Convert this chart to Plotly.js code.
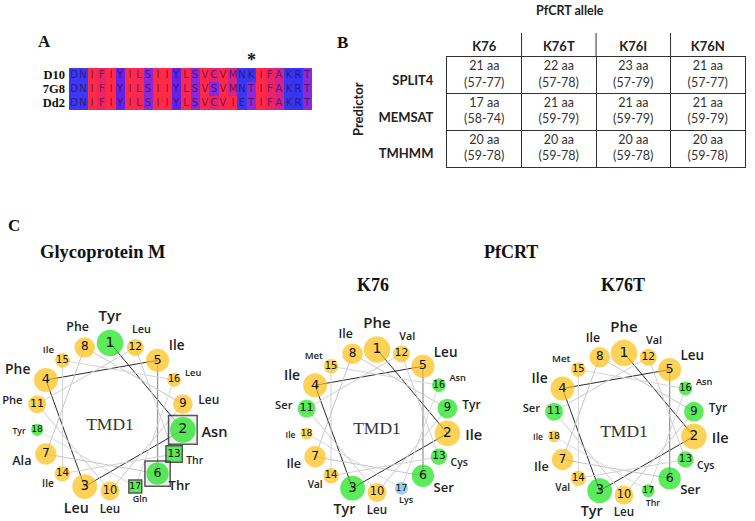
<!DOCTYPE html>
<html><head><meta charset="utf-8">
<script src="https://cdn.plot.ly/plotly-3.0.1.min.js"></script>
<style>html,body{margin:0;padding:0;background:#fff}#chart{width:755px;height:521px}</style>
</head><body><div id="chart"></div>
<script>
// ---------- Panel A : alignment ----------
const strains = ['D10', '7G8', 'Dd2'];
const seqD10 = 'DNIFIYILSIIYLSVCVMNKIFAKRT'.split('');
const seq7G8 = 'DNIFIYILSIIYLSVSVMNTIFAKRT'.split('');
const seqDd2 = 'DNIFIYILSIIYLSVCVIETIFAKRT'.split('');
const starIndex = 19; // K76 position in the alignment
const hydrophobicity = {I:4.5, V:4.2, L:3.8, F:2.8, C:2.5, M:1.9, A:1.8, G:-0.4, T:-0.7, S:-0.8,
  W:-0.9, Y:-1.3, P:-1.6, H:-3.2, E:-3.5, Q:-3.5, D:-3.5, N:-3.5, K:-3.9, R:-4.5};

// ---------- Panel B : table ----------
const alleles = ['K76', 'K76T', 'K76I', 'K76N'];
const predictors = ['SPLIT4', 'MEMSAT', 'TMHMM'];
const split4Length = [21, 22, 23, 21];
const split4Start  = [57, 57, 57, 57];
const split4End    = [77, 78, 79, 77];
const memsatLength = [17, 21, 21, 21];
const memsatStart  = [58, 59, 59, 59];
const memsatEnd    = [74, 79, 79, 79];
const tmhmmLength  = [20, 20, 20, 20];
const tmhmmStart   = [59, 59, 59, 59];
const tmhmmEnd     = [78, 78, 78, 78];

// ---------- Panel C : helical wheels ----------
const residueNumbers = [1, 2, 3, 4, 5, 6, 7, 8, 9, 10, 11, 12, 13, 14, 15, 16, 17, 18];
const gpmResidues  = ['Tyr','Asn','Leu','Phe','Ile','Thr','Ala','Phe','Leu','Leu','Phe','Leu','Thr','Ile','Ile','Leu','Gln','Tyr'];
const k76Residues  = ['Phe','Ile','Tyr','Ile','Leu','Ser','Ile','Ile','Tyr','Leu','Ser','Val','Cys','Val','Met','Asn','Lys','Ile'];
const k76tResidues = ['Phe','Ile','Tyr','Ile','Leu','Ser','Ile','Ile','Tyr','Leu','Ser','Val','Cys','Val','Met','Asn','Thr','Ile'];
const gpmFramed  = [2, 6];
const gpmSquares = [13, 17];

const residueClass = {Phe:'apolar', Ile:'apolar', Leu:'apolar', Val:'apolar', Met:'apolar', Ala:'apolar',
  Tyr:'polar', Asn:'polar', Thr:'polar', Ser:'polar', Cys:'polar', Gln:'polar', Lys:'basic'};
const classColor = {apolar:'#FDBF12', polar:'#17E317', basic:'#74B6E6'};

const traces = [];

// Panel A heatmap
const seqs = [seqD10, seq7G8, seqDd2];
traces.push({
  type:'heatmap', xaxis:'x', yaxis:'y',
  x: seqD10.map((_, i) => i), y: strains,
  z: seqs.map(s => s.map(a => hydrophobicity[a])),
  text: seqs, texttemplate:'%{text}',
  textfont:{family:'DejaVu Sans', size:10, color:'rgba(40,0,50,0.6)'},
  zmin:-4.5, zmax:4.5, showscale:false, hoverinfo:'skip',
  colorscale:[[0,'#3434F2'],[0.111,'#3A38F2'],[0.356,'#6622E4'],[0.417,'#8E28D6'],
              [0.706,'#D0248E'],[0.794,'#EA2468'],[1,'#FF2A48']]
});

// Panel B table text
const tableData = [[split4Length, split4Start, split4End],[memsatLength, memsatStart, memsatEnd],[tmhmmLength, tmhmmStart, tmhmmEnd]];
const tx = [], ty = [], tt = [];
predictors.forEach((p, r) => alleles.forEach((a, c) => {
  tx.push(a); ty.push(p);
  tt.push(tableData[r][0][c] + ' aa<br>(' + tableData[r][1][c] + '-' + tableData[r][2][c] + ')');
}));
traces.push({type:'scatter', xaxis:'x2', yaxis:'y2', x:tx, y:ty, text:tt, mode:'text',
  textfont:{family:'Lato', size:12.5, color:'#333'}, hoverinfo:'skip', cliponaxis:false});

// Wheels
function wheel(subplot, residues, framed, squares) {
  const n = residues.length;
  const theta = residueNumbers.map(k => (k - 1) * 100);
  const sinT = theta.map(t => Math.sin(t * Math.PI / 180));
  const sizes = residueNumbers.map(k => 26.5 - 0.85 * (k - 1));
  // connecting lines
  for (let k = 0; k < n - 1; k++) {
    let col;
    if (k < 4) col = '#2a2a2a';
    else if (k === 4) col = '#9a9a9a';
    else col = 'rgb(' + (185 + k * 2) + ',' + (185 + k * 2) + ',' + (185 + k * 2) + ')';
    traces.push({type:'scatterpolar', subplot, r:[1, 1], theta:[theta[k], theta[k + 1]], mode:'lines',
      line:{color:col, width:k === 4 ? 1.3 : 1}, hoverinfo:'skip', cliponaxis:false});
  }
  // frames
  if (framed.length) {
    traces.push({type:'scatterpolar', subplot, mode:'markers', cliponaxis:false, hoverinfo:'skip',
      r: framed.map(() => 1), theta: framed.map(k => theta[k - 1]),
      marker:{symbol:'square', size: framed.map(k => sizes[k - 1] + 3), color:'#e6e6e6', line:{color:'#111', width:1.5}}});
  }
  // residues
  traces.push({type:'scatterpolar', subplot, mode:'markers+text', cliponaxis:false, hoverinfo:'skip',
    r: residueNumbers.map(() => 1), theta, text: residueNumbers.map(String), textposition:'middle center',
    textfont:{family:'DejaVu Sans', size: residueNumbers.map(k => 14 - 0.29 * (k - 1)), color:'#111'},
    marker:{size: sizes,
      symbol: residueNumbers.map(k => squares.includes(k) ? 'square' : 'circle'),
      color: residues.map(a => classColor[residueClass[a]]),
      line:{color:'#111', width: residueNumbers.map(k => squares.includes(k) ? 1.5 : 0)}}});
  // names: side labels anchored at their inner edge, top/bottom labels centred
  const side = sinT.map(s => s > 0.5 ? 'middle right' : (s < -0.5 ? 'middle left' : 'middle center'));
  traces.push({type:'scatterpolar', subplot, mode:'text', cliponaxis:false, hoverinfo:'skip',
    r: residueNumbers.map((k, i) => side[i] === 'middle center' ? 1.35 - 0.01 * (k - 1) : 1.26 - 0.006 * (k - 1)),
    theta, text: residues, textposition: side,
    textfont:{family:'Open Sans', weight:600, size: residueNumbers.map(k => 15 - 0.38 * (k - 1)), color:'#222'}});
  // centre label
  traces.push({type:'scatterpolar', subplot, mode:'text', cliponaxis:false, hoverinfo:'skip',
    r:[0], theta:[0], text:['TMD1'], textposition:'bottom center',
    textfont:{family:'Liberation Serif', size:17.5, color:'#333'}});
}
wheel('polar', gpmResidues, gpmFramed, gpmSquares);
wheel('polar2', k76Residues, [], []);
wheel('polar3', k76tResidues, [], []);

function polarLayout(dx, dy, rmax) {
  return {domain:{x:dx, y:dy}, bgcolor:'rgba(0,0,0,0)',
    radialaxis:{visible:false, range:[0, rmax]},
    angularaxis:{visible:false, rotation:90, direction:'clockwise'}};
}

const serifBold = {family:'Liberation Serif', weight:'bold', color:'#111'};
const layout = {
  width:755, height:521, margin:{l:0, r:0, t:0, b:0},
  paper_bgcolor:'#fff', plot_bgcolor:'#fff', showlegend:false,
  xaxis:{domain:[0.0914, 0.4132], anchor:'y', range:[-0.5, 25.5], visible:false, fixedrange:true},
  yaxis:{domain:[0.7889, 0.8695], anchor:'x', type:'category', autorange:'reversed',
    tickmode:'array', tickvals:strains, ticktext:strains,
    showgrid:false, zeroline:false, showline:false, ticks:'', ticklabelstandoff:3,
    tickfont:Object.assign({size:12.5}, serifBold), fixedrange:true},
  xaxis2:{domain:[0.5921, 0.9868], anchor:'y2', type:'category', categoryarray:alleles, categoryorder:'array',
    side:'top', tickson:'boundaries', showgrid:true, gridcolor:'#333', gridwidth:1,
    showline:true, mirror:true, linecolor:'#333', linewidth:1, ticks:'', range:[-0.5, 3.5],
    tickfont:{family:'Lato', size:13, weight:'bold', color:'#222'}, fixedrange:true},
  yaxis2:{domain:[0.6795, 0.8906], anchor:'x2', type:'category', categoryarray:predictors, categoryorder:'array',
    range:[2.5, -0.5], tickson:'boundaries', showgrid:true, gridcolor:'#333', gridwidth:1,
    showline:true, mirror:true, linecolor:'#333', linewidth:1, ticks:'', ticklabelstandoff:10, ticklabelshift:-5,
    tickfont:{family:'Lato', size:13, weight:'bold', color:'#222'}, fixedrange:true},
  polar: polarLayout([0.00795, 0.28344], [0, 0.39923], 1.4054),
  polar2: polarLayout([0.36689, 0.63179], [0, 0.38388], 1.3986),
  polar3: polarLayout([0.69801, 0.95497], [0, 0.37236], 1.3662),
  shapes: alleles.slice(1).map((_, i) => ({type:'line', xref:'x2', yref:'paper', x0:i + 0.5, x1:i + 0.5,
    y0:0.8906, y1:0.9367, line:{color:'#333', width:1}})),
  annotations:[
    {text:'A', x:0.0596, y:0.9194, font:Object.assign({size:17}, serifBold)},
    {text:'*', xref:'x', x:starIndex, y:0.8848, font:Object.assign({size:18}, serifBold)},
    {text:'B', x:0.4543, y:0.9175, font:Object.assign({size:17}, serifBold)},
    {text:'PfCRT allele', x:0.755, y:0.9808, font:{family:'Lato', size:12.5, weight:'bold', color:'#222'}},
    {text:'Predictor', x:0.4742, y:0.7908, textangle:-90, font:{family:'Lato', size:13, weight:'bold', color:'#222'}},
    {text:'C', x:0.0185, y:0.5681, font:Object.assign({size:17}, serifBold)},
    {text:'Glycoprotein M', x:0.1364, y:0.5163, font:Object.assign({size:18.5}, serifBold)},
    {text:'PfCRT', x:0.6768, y:0.5163, font:Object.assign({size:18}, serifBold)},
    {text:'K76', x:0.494, y:0.453, font:Object.assign({size:18}, serifBold)},
    {text:'K76T', x:0.8252, y:0.453, font:Object.assign({size:18}, serifBold)}
  ].map(a => Object.assign({xref:'paper', yref:'paper', showarrow:false, xanchor:'center', yanchor:'middle'}, a))
};

Plotly.newPlot('chart', traces, layout, {staticPlot:true, displayModeBar:false});
</script></body></html>
